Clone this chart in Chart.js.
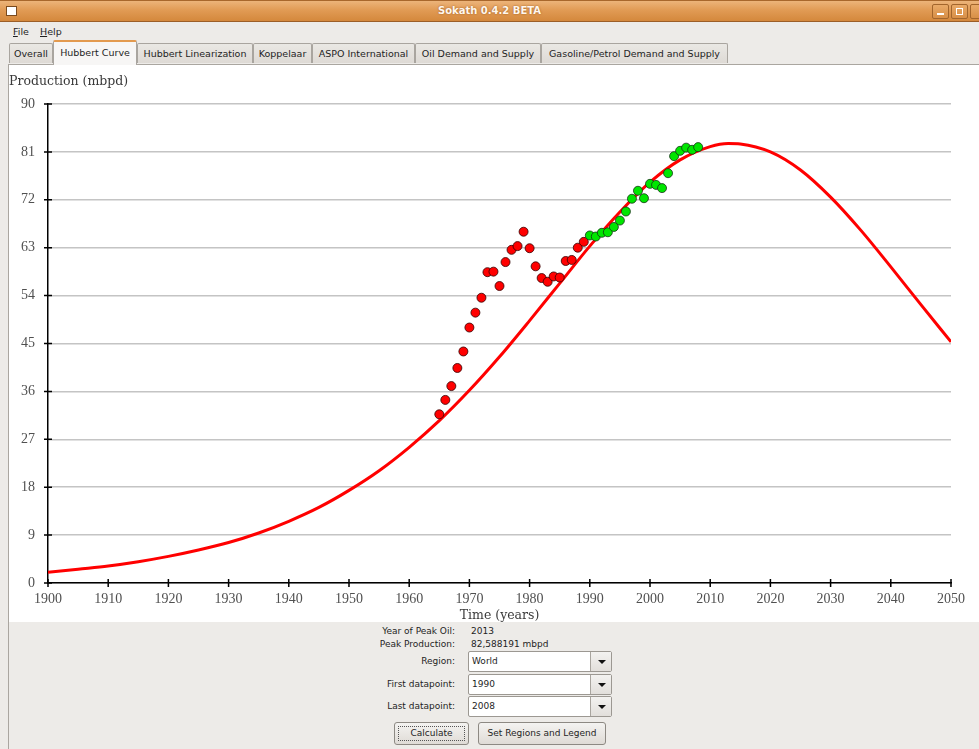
<!DOCTYPE html>
<html>
<head>
<meta charset="utf-8">
<title>Sokath 0.4.2 BETA</title>
<script src="https://cdn.jsdelivr.net/npm/chart.js@4.4.1/dist/chart.umd.min.js"></script>
<style>
  html, body { margin: 0; padding: 0; }
  body {
    width: 979px; height: 749px; overflow: hidden; position: relative;
    background: #edebe8; font-family: "DejaVu Sans", sans-serif; color: #1e1e1e;
  }
  .abs { position: absolute; }
  .titlebar {
    left: 0; top: 0; width: 979px; height: 20px;
    background: linear-gradient(#ecb47a, #e19b55 45%, #d4883c);
    border-top: 1px solid #a8672c; border-bottom: 1px solid #9c5e27;
  }
  .ticon { left: 6px; top: 5px; width: 9px; height: 8px; background: #fff; border: 1px solid #7a4a1e; }
  .ttext {
    left: 0; top: 4px; width: 979px; text-align: center; font-size: 10px; font-weight: bold;
    color: #fff7ee; text-shadow: 0 0 2px #9a5a20;
  }
  .wbtn {
    top: 3px; width: 15px; height: 13px; border: 1px solid #a2652c; border-radius: 2px;
    background: linear-gradient(#e9aa68, #d88f47);
  }
  .menubar { left: 0; top: 22px; width: 979px; height: 19px; background: #edebe8; font-size: 9.5px; }
  .menubar span { position: absolute; top: 4px; }
  .tab {
    top: 43px; height: 20px; border: 1px solid #a9a59f; border-bottom: none; border-radius: 2px 2px 0 0;
    background: linear-gradient(#eae8e4, #dedad5); font-size: 9.5px; line-height: 20px; text-align: center;
    box-sizing: border-box;
  }
  .tab.active {
    top: 40px; height: 25px; background: #f7f6f5; border-top: 2px solid #e39a4f; line-height: 22px; z-index: 2;
  }
  .page { left: 8px; top: 64px; width: 975px; height: 690px; border-left: 1px solid #aaa6a0; border-top: 1px solid #aaa6a0; }
  .white { left: 9px; top: 65px; width: 970px; height: 557px; background: #fff; }
  .lbl { font-size: 9px; text-align: right; width: 140px; left: 315px; }
  .val { font-size: 9px; left: 471px; }
  .combo {
    left: 468px; width: 142px; height: 19px; background: #fff; border: 1px solid #9c9892; border-radius: 2px;
    font-size: 9px; line-height: 19px; box-sizing: content-box;
  }
  .combo .txt { position: absolute; left: 3px; top: 0; }
  .combo .btn {
    position: absolute; right: 0; top: 0; width: 20px; height: 19px; border-left: 1px solid #a9a59f;
    background: linear-gradient(#f3f2f0, #e2dfdb);
  }
  .combo .btn:after {
    content: ""; position: absolute; left: 7px; top: 8px; border-left: 4px solid transparent;
    border-right: 4px solid transparent; border-top: 4px solid #111;
  }
  .pbtn {
    top: 722px; height: 21px; border: 1px solid #8d8983; border-radius: 3px;
    background: linear-gradient(#f4f3f1, #dfdbd6); font-size: 9px; line-height: 21px; text-align: center;
  }
  .focus { position: absolute; left: 3px; top: 3px; right: 3px; bottom: 3px; border: 1px dotted #555; }
  canvas#hubbert { position: absolute; left: 9px; top: 65px; }
</style>
</head>
<body>
  <!-- window frame -->
  <div class="abs titlebar">
    <div class="abs ticon"></div>
    <div class="abs ttext">Sokath 0.4.2 BETA</div>
    <div class="abs wbtn" style="left:932px"><div class="abs" style="left:4px;top:8px;width:7px;height:2px;background:#fff"></div></div>
    <div class="abs wbtn" style="left:951px"><div class="abs" style="left:4px;top:3px;width:5px;height:5px;border:1px solid #fff"></div></div>
    <div class="abs wbtn" style="left:970px"></div>
  </div>
  <div class="abs menubar">
    <span style="left:13px"><u>F</u>ile</span>
    <span style="left:40px"><u>H</u>elp</span>
  </div>

  <!-- notebook tabs -->
  <div class="abs tab" style="left:9px;width:44px">Overall</div>
  <div class="abs tab active" style="left:53px;width:84px">Hubbert Curve</div>
  <div class="abs tab" style="left:137px;width:116px">Hubbert Linearization</div>
  <div class="abs tab" style="left:253px;width:59px">Koppelaar</div>
  <div class="abs tab" style="left:312px;width:103px">ASPO International</div>
  <div class="abs tab" style="left:415px;width:126px">Oil Demand and Supply</div>
  <div class="abs tab" style="left:541px;width:187px">Gasoline/Petrol Demand and Supply</div>

  <div class="abs page"></div>
  <div class="abs white"></div>
  <canvas id="hubbert" width="970" height="557"></canvas>

  <!-- results and controls -->
  <div class="abs lbl" style="top:626px">Year of Peak Oil:</div>
  <div class="abs val" style="top:626px">2013</div>
  <div class="abs lbl" style="top:639px">Peak Production:</div>
  <div class="abs val" style="top:639px">82,588191 mbpd</div>

  <div class="abs lbl" style="top:656px">Region:</div>
  <div class="abs combo" style="top:651px"><span class="txt">World</span><div class="btn"></div></div>
  <div class="abs lbl" style="top:679px">First datapoint:</div>
  <div class="abs combo" style="top:674px"><span class="txt">1990</span><div class="btn"></div></div>
  <div class="abs lbl" style="top:701px">Last datapoint:</div>
  <div class="abs combo" style="top:696px"><span class="txt">2008</span><div class="btn"></div></div>

  <div class="abs pbtn" style="left:394px;width:73px"><div class="focus"></div>Calculate</div>
  <div class="abs pbtn" style="left:478px;width:126px">Set Regions and Legend</div>

<script>
// Fitted Hubbert curve (mbpd), sampled every five years plus the peak year
const curveYears = [1900, 1905, 1910, 1915, 1920, 1925, 1930, 1935, 1940, 1945, 1950, 1955, 1960, 1965,
                    1970, 1975, 1980, 1985, 1990, 1995, 2000, 2005, 2010, 2013, 2015, 2020, 2025, 2030,
                    2035, 2040, 2045, 2050];
const curveValues = [2.0, 2.6, 3.2, 4.0, 5.0, 6.2, 7.6, 9.4, 11.6, 14.2, 17.4, 21.1, 25.5, 30.5,
                     36.2, 42.5, 49.3, 56.3, 63.3, 69.7, 75.3, 79.5, 82.0, 82.588191, 82.5, 81.0, 77.6, 72.5,
                     66.3, 59.4, 52.3, 45.3];

// Historical production outside the fit window
const historyYears = [1965, 1966, 1967, 1968, 1969, 1970, 1971, 1972, 1973, 1974, 1975, 1976, 1977,
                      1978, 1979, 1980, 1981, 1982, 1983, 1984, 1985, 1986, 1987, 1988, 1989];
const historyValues = [31.7, 34.4, 37.0, 40.4, 43.5, 48.0, 50.8, 53.6, 58.4, 58.5, 55.8, 60.3, 62.6,
                       63.3, 66.0, 62.9, 59.5, 57.3, 56.6, 57.6, 57.4, 60.5, 60.7, 63.0, 64.1];

// Production used for the fit (first datapoint 1990, last datapoint 2008)
const fitYears = [1990, 1991, 1992, 1993, 1994, 1995, 1996, 1997, 1998, 1999, 2000, 2001, 2002, 2003,
                  2004, 2005, 2006, 2007, 2008];
const fitValues = [65.3, 65.1, 65.8, 65.9, 66.9, 68.1, 69.8, 72.2, 73.7, 72.3, 75.0, 74.8, 74.2, 77.0,
                   80.2, 81.2, 81.8, 81.4, 81.9];

// Axis ticks and titles
const xTickValues = [1900, 1910, 1920, 1930, 1940, 1950, 1960, 1970, 1980, 1990, 2000, 2010, 2020, 2030, 2040, 2050];
const yTickValues = [0, 9, 18, 27, 36, 45, 54, 63, 72, 81, 90];
const yAxisTitle = 'Production (mbpd)';
const xAxisTitle = 'Time (years)';

const toPoints = (xs, ys) => xs.map((x, i) => ({ x: x, y: ys[i] }));

const tickFont = { family: 'Liberation Serif', size: 14 };
const titleFont = { family: 'DejaVu Serif', size: 12.5, weight: 'normal' };

// Tick marks that straddle both axes
const crossTicks = {
  id: 'crossTicks',
  beforeDatasetsDraw(chart) {
    const { ctx, chartArea, scales } = chart;
    ctx.save();
    ctx.strokeStyle = '#000';
    ctx.lineWidth = 1.5;
    ctx.beginPath();
    scales.x.ticks.forEach(t => {
      const px = scales.x.getPixelForValue(t.value);
      ctx.moveTo(px, chartArea.bottom - 4);
      ctx.lineTo(px, chartArea.bottom + 4);
    });
    scales.y.ticks.forEach(t => {
      const py = scales.y.getPixelForValue(t.value);
      ctx.moveTo(chartArea.left - 4, py);
      ctx.lineTo(chartArea.left + 4, py);
    });
    ctx.stroke();
    ctx.restore();
  }
};

new Chart(document.getElementById('hubbert'), {
  type: 'scatter',
  data: {
    datasets: [
      {
        label: 'Fit data',
        data: toPoints(fitYears, fitValues),
        backgroundColor: '#00e600',
        borderColor: 'rgba(20,40,20,0.75)',
        borderWidth: 1,
        pointRadius: 4.5
      },
      {
        label: 'History',
        data: toPoints(historyYears, historyValues),
        backgroundColor: '#ff0000',
        borderColor: 'rgba(50,0,0,0.8)',
        borderWidth: 1,
        pointRadius: 4.5
      },
      {
        label: 'Hubbert curve',
        type: 'line',
        data: toPoints(curveYears, curveValues),
        borderColor: '#ff0000',
        borderWidth: 3,
        pointRadius: 0,
        fill: false,
        cubicInterpolationMode: 'monotone'
      }
    ]
  },
  options: {
    responsive: false,
    animation: false,
    events: [],
    layout: { padding: { left: 0, right: 28, top: 0, bottom: 0 } },
    plugins: {
      legend: { display: false },
      tooltip: { enabled: false },
      title: {
        display: true,
        text: yAxisTitle,
        align: 'start',
        color: '#3a3a3a',
        font: Object.assign({ lineHeight: 1.2 }, titleFont),
        padding: { top: 9.5, bottom: 14.5 }
      }
    },
    scales: {
      x: {
        type: 'linear',
        min: 1900,
        max: 2050,
        afterBuildTicks: s => { s.ticks = xTickValues.map(v => ({ value: v })); },
        afterFit: s => { s.height = 39; },
        grid: { drawOnChartArea: false, tickLength: 4, tickColor: 'rgba(0,0,0,0)' },
        border: { color: '#000', width: 1.5 },
        ticks: { padding: 4, color: '#505050', font: tickFont, maxRotation: 0, autoSkip: false,
                 callback: v => String(v) },
        title: { display: true, text: xAxisTitle, color: '#3a3a3a', padding: 0,
                 font: Object.assign({ lineHeight: 1 }, titleFont) }
      },
      y: {
        type: 'linear',
        min: 0,
        max: 90,
        afterBuildTicks: s => { s.ticks = yTickValues.map(v => ({ value: v })); },
        afterFit: s => { s.width = 39; },
        grid: { color: '#c4c4c4', lineWidth: 1.5, tickLength: 4, tickColor: 'rgba(0,0,0,0)' },
        border: { color: '#000', width: 1.5 },
        ticks: { padding: 9, color: '#505050', font: tickFont, autoSkip: false }
      }
    }
  },
  plugins: [crossTicks]
});
</script>
</body>
</html>
